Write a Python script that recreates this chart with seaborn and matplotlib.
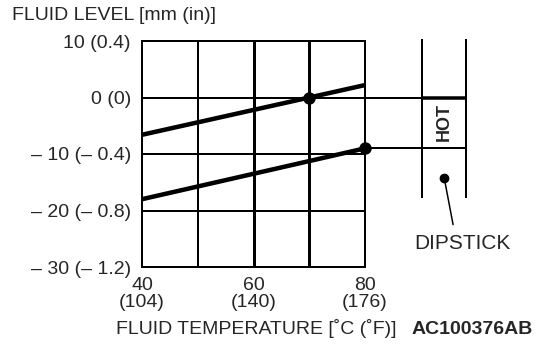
import matplotlib
matplotlib.use("Agg")
import matplotlib.pyplot as plt
import seaborn as sns
import pandas as pd

# Fluid level vs. fluid temperature, two reference lines
temp_c = [40, 80]
level_upper = [-6.6, 2.2]
level_lower = [-18.0, -9.0]
dot_temp = [70, 80]
dot_level = [0.0, -9.0]

x_ticks = [40, 60, 80]
x_tick_labels = ["40\n(104)", "60\n(140)", "80\n(176)"]
y_ticks = [10, 0, -10, -20, -30]
y_tick_labels = ["10 (0.4)", "0 (0)", "– 10 (– 0.4)", "– 20 (– 0.8)", "– 30 (– 1.2)"]
grid_x = [50, 60, 70]
grid_y = [0, -10, -20]

sns.set_style("white")
plt.rcParams["font.family"] = ["Liberation Sans", "DejaVu Sans"]

W, H = 560, 346
fig = plt.figure(figsize=(W / 100, H / 100), dpi=100)
ax = fig.add_axes([142 / W, 79 / H, 223 / W, 226 / H])
ax.set_xlim(40, 80)
ax.set_ylim(-30, 10)

px = 0.72  # points per pixel
for s in ax.spines.values():
    s.set_color("black")
    s.set_linewidth(2 * px)

# grid
for gx in grid_x:
    ax.axvline(gx, color="black", lw=(3 if gx in (60, 70) else 2) * px, zorder=1)
for gy in grid_y:
    ax.axhline(gy, color="black", lw=2 * px, zorder=1)

df_up = pd.DataFrame({"temp": temp_c, "level": level_upper})
df_lo = pd.DataFrame({"temp": temp_c, "level": level_lower})
sns.lineplot(data=df_up, x="temp", y="level", color="black", lw=4.5 * px, ax=ax, zorder=3)
sns.lineplot(data=df_lo, x="temp", y="level", color="black", lw=4.5 * px, ax=ax, zorder=3)
sns.scatterplot(x=dot_temp, y=dot_level, color="black", s=80, linewidth=0, ax=ax,
                zorder=5, clip_on=False)

# dipstick
xl, xr = 90.2, 98.2
ytop, ybot = 10.35, -17.7
line_kw = dict(color="black", clip_on=False, solid_capstyle="butt")
ax.plot([xl, xl], [ytop, ybot], lw=2 * px, **line_kw)
ax.plot([xr, xr], [ytop, ybot], lw=2 * px, **line_kw)
ax.plot([80, xl], [0, 0], lw=2 * px, **line_kw)
ax.plot([xl, xr], [0, 0], lw=3.5 * px, **line_kw)
ax.plot([80, xr], [dot_level[1], dot_level[1]], lw=2 * px, **line_kw)
ax.text((xl + xr) / 2, -4.4, "HOT", rotation=90, ha="center", va="center",
        fontsize=13, fontweight="bold")
ax.plot([94.2], [-14.2], "o", color="black", ms=6, clip_on=False)
ax.plot([94.2, 95.8], [-14.2, -22.5], color="black", lw=1.5 * px, clip_on=False)
ax.text(97.4, -25.8, "DIPSTICK", ha="center", va="center", fontsize=15)

ax.set_xticks(x_ticks)
ax.set_xticklabels(x_tick_labels, fontsize=14, linespacing=0.95)
ax.set_yticks(y_ticks)
ax.set_yticklabels(y_tick_labels, fontsize=14)
ax.tick_params(axis="both", length=0)
ax.tick_params(axis="y", pad=8)
ax.tick_params(axis="x", pad=7.5)
ax.set_xlabel("")
ax.set_ylabel("")

fig.text(12 / W, 1 - 15 / H, "FLUID LEVEL [mm (in)]", fontsize=14, va="center", ha="left")
fig.text(256 / W, 1 - 328 / H, "FLUID TEMPERATURE [˚C (˚F)]", fontsize=14,
         va="center", ha="center")
fig.text(472 / W, 1 - 330 / H, "AC100376AB", fontsize=14, fontweight="bold",
         va="center", ha="center")

fig.savefig("out.png", dpi=100, facecolor="white")
